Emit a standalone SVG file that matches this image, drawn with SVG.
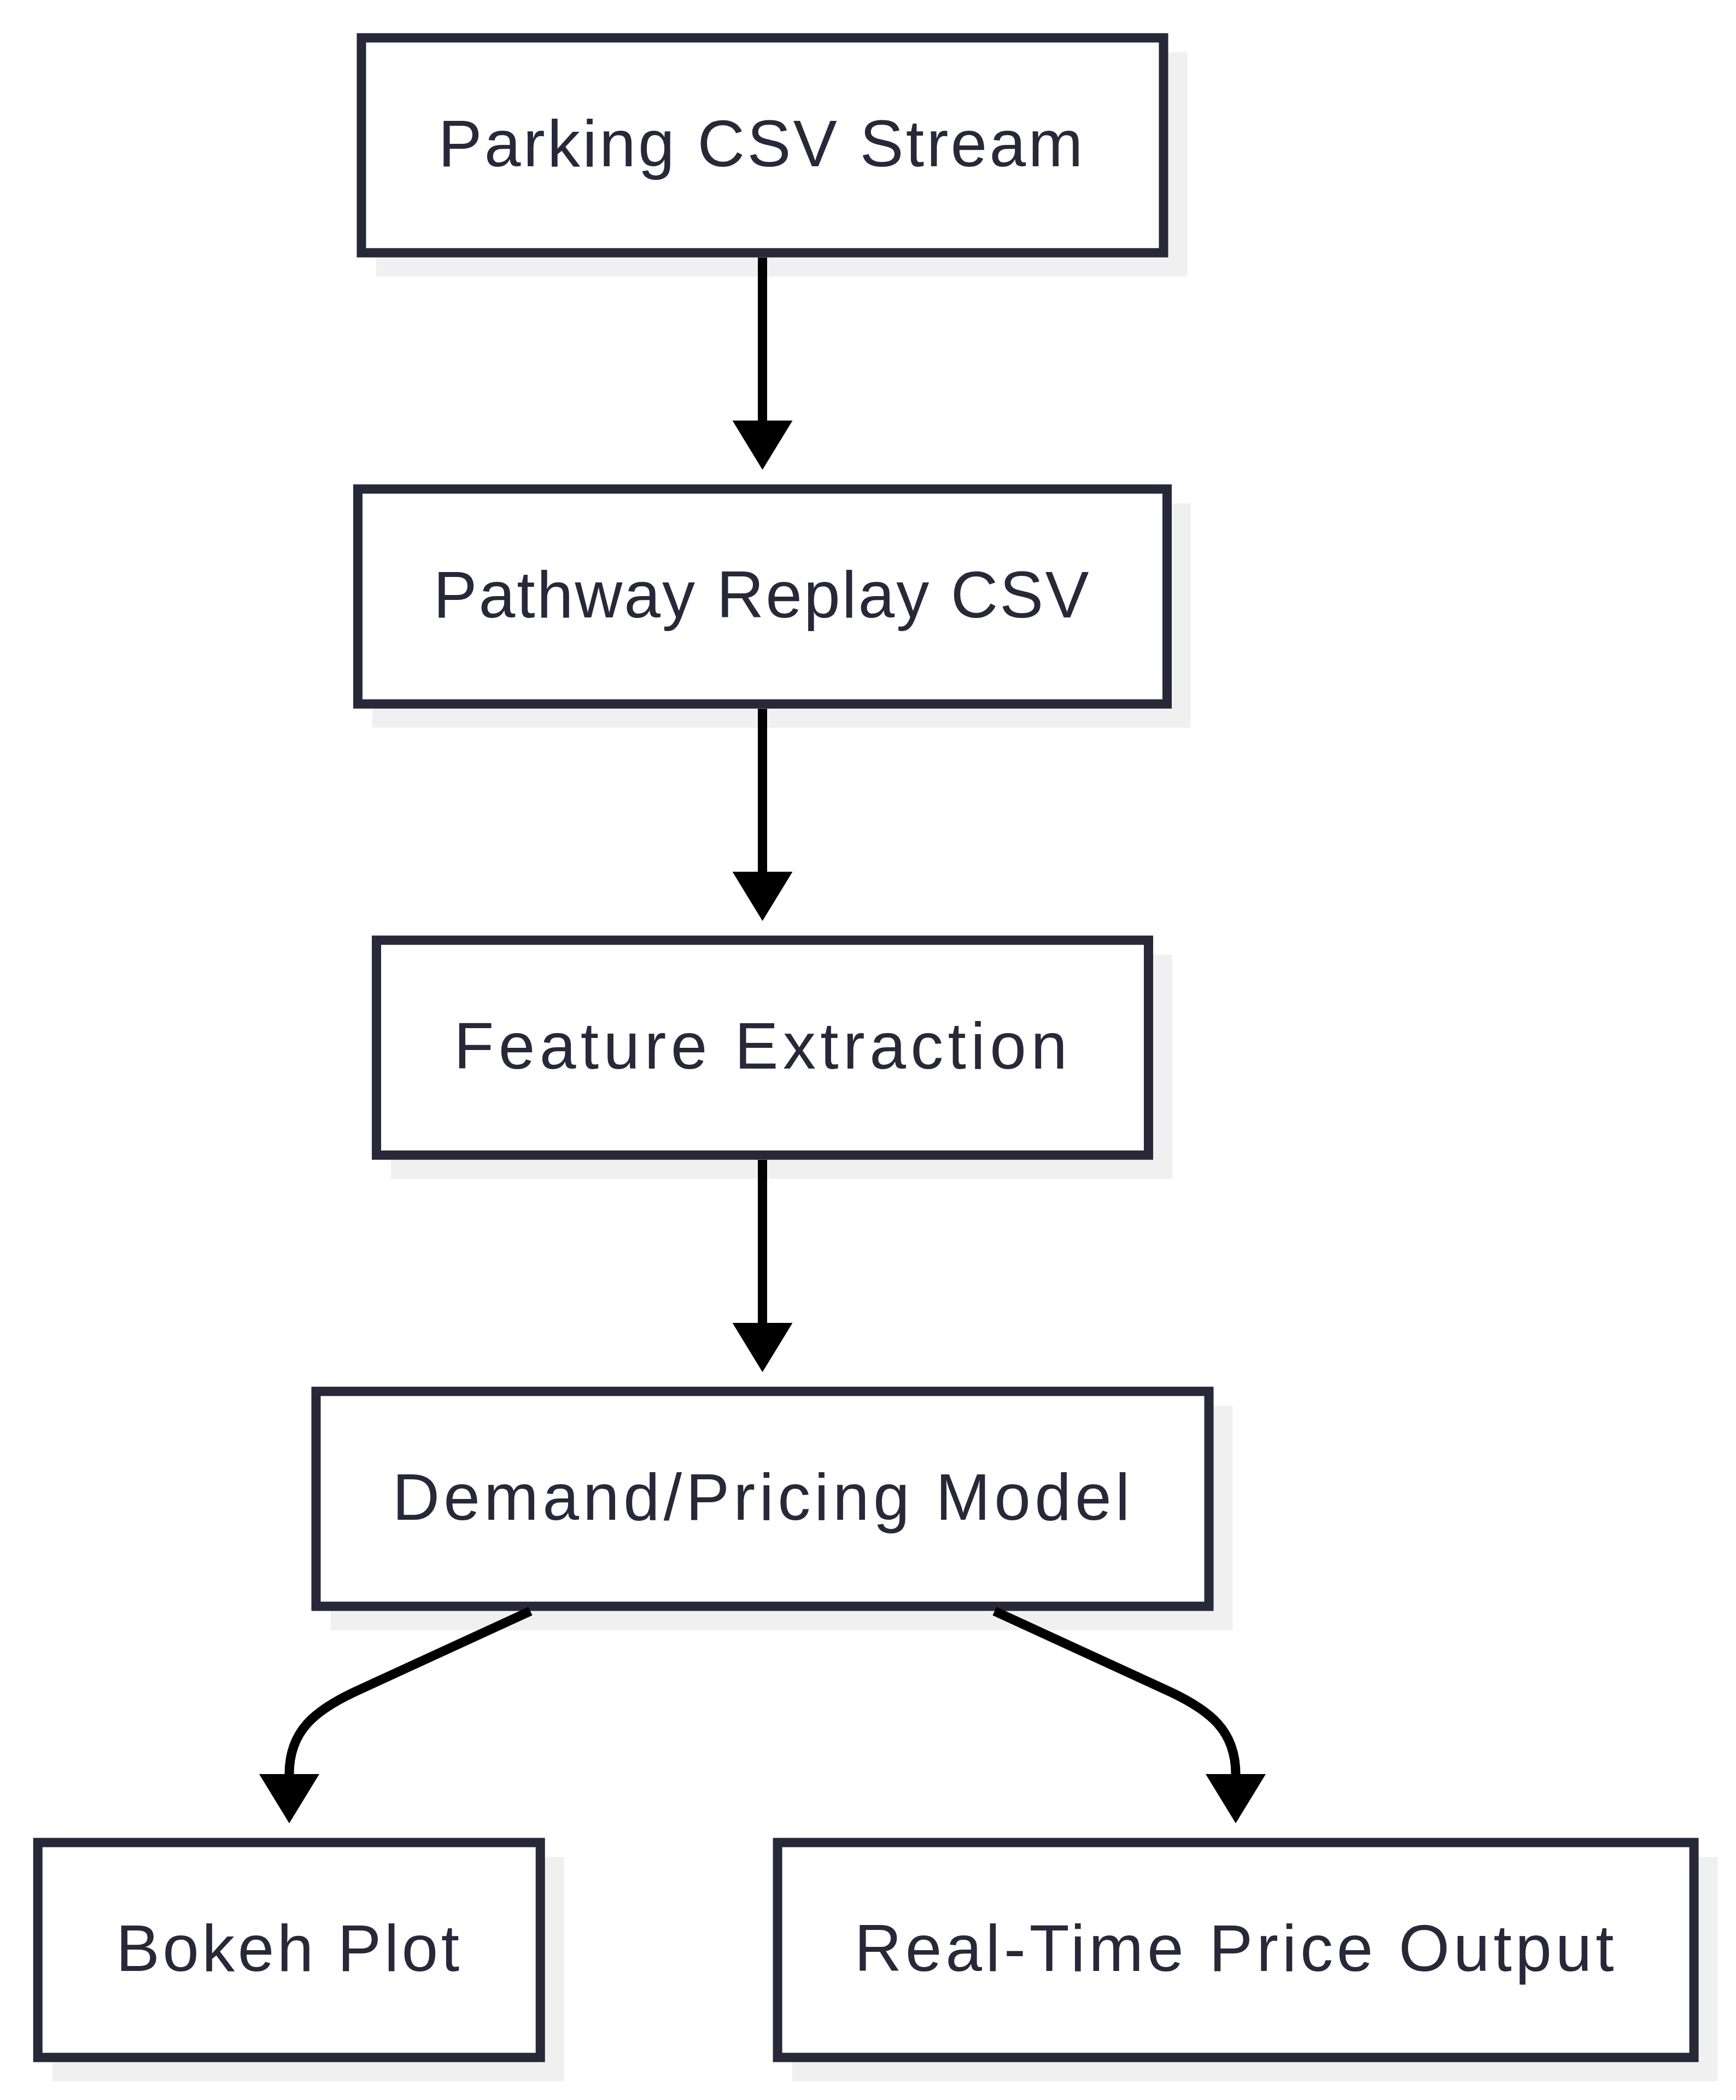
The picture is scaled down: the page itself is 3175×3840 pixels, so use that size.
<svg xmlns="http://www.w3.org/2000/svg" width="3175" height="3840" viewBox="0 0 3175 3840">
  <style>
    .shadow { fill: #f0f0f0; stroke: none; }
    .box { fill: #ffffff; stroke: #272838; stroke-width: 17; }
    .label { font-family: "Liberation Sans", Arial, sans-serif; font-size: 120px; fill: #272838; text-anchor: middle; }
    .edge { fill: none; stroke: #000000; stroke-width: 17; }
  </style>
  <defs>
    <marker id="arrow" markerUnits="userSpaceOnUse" markerWidth="90" markerHeight="110" viewBox="0 0 90 110" refX="0" refY="55" orient="auto">
      <path d="M0,0 L90,55 L0,110 Z" fill="#000000"/>
    </marker>
  </defs>
  <rect width="3175" height="3840" fill="#ffffff"/>

  <g id="node-parking">
    <rect class="shadow" x="687.5" y="95.7" width="1484" height="410"/>
    <rect class="box" x="661" y="69.2" width="1467" height="393"/>
    <text class="label" x="1391" y="304" textLength="1179" lengthAdjust="spacing">Parking CSV Stream</text>
  </g>
  <g id="node-pathway">
    <rect class="shadow" x="681" y="920.7" width="1497" height="410"/>
    <rect class="box" x="654.5" y="894.2" width="1480" height="393"/>
    <text class="label" x="1392" y="1129" textLength="1199" lengthAdjust="spacing">Pathway Replay CSV</text>
  </g>
  <g id="node-feature">
    <rect class="shadow" x="715" y="1745.7" width="1429" height="410"/>
    <rect class="box" x="688.5" y="1719.2" width="1412" height="393"/>
    <text class="label" x="1391" y="1954" textLength="1122" lengthAdjust="spacing">Feature Extraction</text>
  </g>
  <g id="node-model">
    <rect class="shadow" x="604.5" y="2570.7" width="1650" height="410"/>
    <rect class="box" x="578" y="2544.2" width="1633" height="393"/>
    <text class="label" x="1392" y="2779" textLength="1349" lengthAdjust="spacing">Demand/Pricing Model</text>
  </g>
  <g id="node-bokeh">
    <rect class="shadow" x="95.7" y="3395.7" width="936" height="410"/>
    <rect class="box" x="69.2" y="3369.2" width="919" height="393"/>
    <text class="label" x="526" y="3604" textLength="628" lengthAdjust="spacing">Bokeh Plot</text>
  </g>
  <g id="node-output">
    <rect class="shadow" x="1448.6" y="3395.7" width="1693" height="410"/>
    <rect class="box" x="1422.1" y="3369.2" width="1676" height="393"/>
    <text class="label" x="2257" y="3604" textLength="1389" lengthAdjust="spacing">Real-Time Price Output</text>
  </g>

  <g id="connectors">
    <path class="edge" d="M1394.5,471 L1394.5,769" marker-end="url(#arrow)"/>
    <path class="edge" d="M1394.5,1296 L1394.5,1594" marker-end="url(#arrow)"/>
    <path class="edge" d="M1394.5,2121 L1394.5,2419" marker-end="url(#arrow)"/>
    <path class="edge" d="M970,2946 L648,3094 C576,3128 529,3165 529,3244" marker-end="url(#arrow)"/>
    <path class="edge" d="M1819,2946 L2141,3094 C2213,3128 2260,3165 2260,3244" marker-end="url(#arrow)"/>
  </g>
</svg>
